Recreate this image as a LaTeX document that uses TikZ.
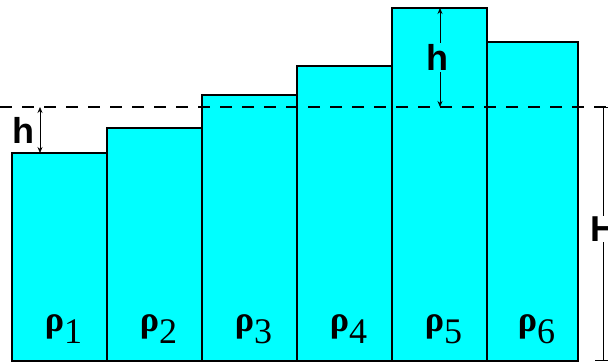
\documentclass[tikz,border=0pt]{standalone}
\usepackage{fontspec}
\setmainfont{Liberation Serif}
\newfontfamily\labelfont{Liberation Sans}
\usetikzlibrary{arrows.meta, calc}
\definecolor{aqua}{RGB}{0,255,255}

\begin{document}
\begin{tikzpicture}[
    x=1pt, y=-1pt,
    bar/.style    ={draw=black, line width=1.2pt, fill=aqua},
    level/.style  ={dash pattern=on 12pt off 10pt, line width=1.2pt},
    dim/.style    ={{Stealth[length=6pt,width=5pt]}-{Stealth[length=6pt,width=5pt]}, line width=0.8pt},
    span/.style   ={{Bar[width=16pt]}-{Bar[width=16pt]}, line width=0.8pt},
    hlabel/.style ={font=\labelfont\bfseries\fontsize{36}{36}\selectfont, inner sep=1pt},
    rho/.style    ={font=\fontsize{36}{36}\selectfont, inner sep=0pt, anchor=base}
]
\useasboundingbox (0,0) rectangle (608,363);

% Columns: left edge / right edge / top
\foreach \n/\xa/\xb/\yt in {1/12/107/153, 2/107/202/128, 3/202/297/95,
                            4/297/392/66, 5/392/487/8, 6/487/578/42}{
  \draw[bar] (\xa,361) rectangle (\xb,\yt);
  \coordinate (top\n) at ({(\xa+\xb)/2},\yt);
  \node[rho] (rho\n) at ({(\xa+\xb)/2+4},332) {\textbf{ρ}\raisebox{-12pt}{\n}};
}

% Reference level
\coordinate (lvlL) at (0,107);
\coordinate (lvlR) at (608,107);
\draw[level] (lvlL) -- (lvlR);

% h below the level (column 1)
\coordinate (h1a) at (40,107);
\coordinate (h1b) at (40,153);
\draw[dim] (h1a) -- (h1b);
\node[hlabel] (h1) at (23,130) {h};

% h above the level (column 5)
\coordinate (h5a) at (440,8);
\coordinate (h5b) at (440,107);
\draw[dim] (h5a) -- node[hlabel, fill=aqua, pos=0.5, xshift=-3pt] (h5) {h} (h5b);

% Total height H
\coordinate (Ha) at (603,107);
\coordinate (Hb) at (603,361);
\draw[span] (Ha) -- node[hlabel, fill=white, pos=0.48] (H) {H} (Hb);

\end{tikzpicture}
\end{document}
